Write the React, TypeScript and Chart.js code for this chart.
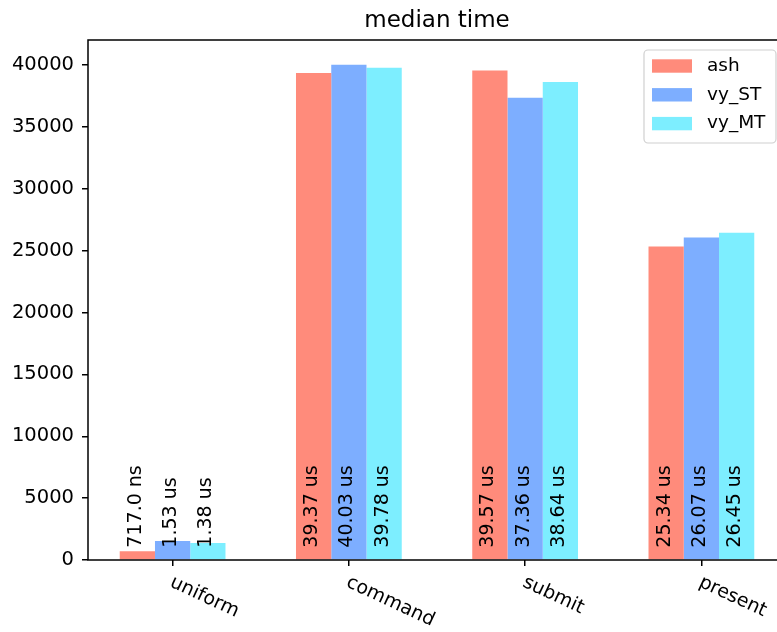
import { useEffect, useRef } from 'react';
import { Chart, registerables } from 'chart.js';

Chart.register(...registerables);

const FONT = "'DejaVu Sans', sans-serif";

const categories = ['uniform', 'command', 'submit', 'present'];
const seriesNames = ['ash', 'vy_ST', 'vy_MT'];
// median times in nanoseconds
const ashValues = [717, 39370, 39570, 25340];
const vySTValues = [1530, 40030, 37360, 26070];
const vyMTValues = [1380, 39780, 38640, 26450];
const seriesColors = ['#ff8b7b', '#7daeff', '#7deeff'];

const yTicks = [0, 5000, 10000, 15000, 20000, 25000, 30000, 35000, 40000];
const yMax = 42031.5;
const xMin = -0.48;
const xMax = 3.48;
const labelAnchorValue = 1000;
const chartTitle = 'median time';

function formatTime(ns: number): string {
  return ns < 1000 ? `${ns.toFixed(1)} ns` : `${(ns / 1000).toFixed(2)} us`;
}

const overlayPlugin = {
  id: 'overlay',
  afterDatasetsDraw(chart: any) {
    const ctx: CanvasRenderingContext2D = chart.ctx;
    const { left, right, top, bottom } = chart.chartArea;
    const xScale = chart.scales.x;
    const yScale = chart.scales.y;
    ctx.save();

    // value labels inside bars
    ctx.font = `19px ${FONT}`;
    ctx.fillStyle = '#000';
    ctx.textAlign = 'left';
    ctx.textBaseline = 'middle';
    const yPix = yScale.getPixelForValue(labelAnchorValue);
    chart.data.datasets.forEach((ds: any, di: number) => {
      const meta = chart.getDatasetMeta(di);
      meta.data.forEach((bar: any, i: number) => {
        ctx.save();
        ctx.translate(bar.x - 1.5, yPix);
        ctx.rotate(-Math.PI / 2);
        ctx.fillText(formatTime(ds.data[i].y), 0, 0);
        ctx.restore();
      });
    });

    // spines
    ctx.strokeStyle = '#000';
    ctx.lineWidth = 1.5;
    ctx.strokeRect(left, top, right - left, bottom - top);

    // rotated category labels
    ctx.font = `19px ${FONT}`;
    ctx.textAlign = 'left';
    ctx.textBaseline = 'alphabetic';
    categories.forEach((c, i) => {
      const x = xScale.getPixelForValue(i);
      ctx.save();
      ctx.translate(x - 3.5, bottom + 26);
      ctx.rotate((25 * Math.PI) / 180);
      ctx.fillText(c, 0, 0);
      ctx.restore();
    });

    // legend
    const bw = 132;
    const bh = 93;
    const bx = right - 10 - bw;
    const by = top + 10;
    ctx.beginPath();
    (ctx as any).roundRect(bx, by, bw, bh, 4);
    ctx.fillStyle = 'rgba(255,255,255,0.8)';
    ctx.fill();
    ctx.strokeStyle = '#d0d0d0';
    ctx.lineWidth = 1.2;
    ctx.stroke();
    ctx.font = `18.5px ${FONT}`;
    ctx.textBaseline = 'middle';
    chart.data.datasets.forEach((ds: any, di: number) => {
      const cy = by + 16 + di * 28.8;
      ctx.fillStyle = ds.backgroundColor;
      ctx.fillRect(bx + 8, cy - 6.7, 40, 13.4);
      ctx.fillStyle = '#000';
      ctx.fillText(ds.label, bx + 63, cy);
    });

    ctx.restore();
  },
};

export default function App() {
  const canvasRef = useRef<HTMLCanvasElement | null>(null);

  useEffect(() => {
    if (!canvasRef.current) return;
    const seriesValues = [ashValues, vySTValues, vyMTValues];
    const chart = new Chart(canvasRef.current, {
      type: 'bar',
      data: {
        datasets: seriesNames.map((name, si) => ({
          label: name,
          data: seriesValues[si].map((v, i) => ({ x: i, y: v })),
          backgroundColor: seriesColors[si],
          borderWidth: 0,
          categoryPercentage: 0.6,
          barPercentage: 1.0,
        })),
      },
      options: {
        responsive: false,
        animation: false,
        layout: { padding: 0 },
        plugins: {
          legend: { display: false },
          tooltip: { enabled: false },
          title: {
            display: true,
            text: chartTitle,
            fullSize: false,
            color: '#000',
            font: { family: FONT, size: 23, weight: 'normal' },
            padding: { top: 7.5, bottom: 4.9 },
          },
        },
        scales: {
          x: {
            type: 'linear',
            min: xMin,
            max: xMax,
            offset: false,
            ticks: { display: false, includeBounds: false },
            afterBuildTicks: (s: any) => {
              s.ticks = categories.map((_, i) => ({ value: i }));
            },
            grid: {
              display: true,
              offset: false,
              drawOnChartArea: false,
              drawTicks: true,
              tickLength: 6,
              color: '#000',
              lineWidth: 1.5,
            },
            border: { display: false },
            afterFit: (s: any) => {
              s.height = 72;
            },
          },
          y: {
            min: 0,
            max: yMax,
            ticks: {
              includeBounds: false,
              color: '#000',
              padding: 8,
              font: { family: FONT, size: 19.5 },
              callback: (v: any) => String(v),
            },
            afterBuildTicks: (s: any) => {
              s.ticks = yTicks.map((v) => ({ value: v }));
            },
            grid: {
              display: true,
              drawOnChartArea: false,
              drawTicks: true,
              tickLength: 6,
              color: '#000',
              lineWidth: 1.5,
            },
            border: { display: false },
            afterFit: (s: any) => {
              s.width = 88;
            },
          },
        },
      } as any,
      plugins: [overlayPlugin],
    });
    return () => chart.destroy();
  }, []);

  return (
    <div
      style={{
        position: 'fixed',
        left: 0,
        top: 0,
        width: 777,
        height: 632,
        overflow: 'hidden',
        background: '#fff',
      }}
    >
      <canvas ref={canvasRef} width={786} height={632} style={{ display: 'block' }} />
    </div>
  );
}
